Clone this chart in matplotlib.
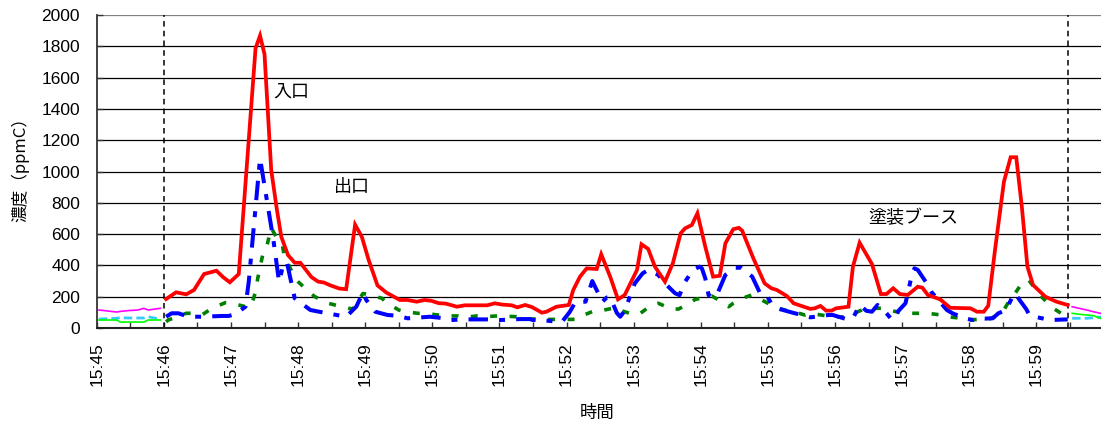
import matplotlib
matplotlib.use("Agg")
import matplotlib.pyplot as plt
from matplotlib.ticker import FixedLocator

plt.rcParams['font.family'] = ['Liberation Sans', 'Noto Sans CJK JP', 'DejaVu Sans']
plt.rcParams['lines.scale_dashes'] = False

# ---- data: time in seconds after 15:45:00, concentration in ppmC ----
inlet_t = [62, 71, 80, 87, 96, 107, 113, 119, 127, 142, 146, 150, 156, 161, 165, 171, 177, 182,
           192, 198, 203, 209, 217, 223, 231, 237, 243, 251, 259, 271, 278, 286, 293, 299, 306,
           312, 322, 329, 349, 356, 362, 371, 376, 383, 389, 398, 402, 411, 422, 426, 432, 438,
           447, 451, 459, 466, 472, 483, 487, 493, 499, 508, 515, 522, 526, 532, 537, 544, 551,
           557, 562, 569, 574, 577, 587, 597, 603, 608, 617, 623, 632, 638, 642, 647, 652, 657,
           661, 672, 676, 682, 693, 701, 706, 712, 718, 725, 734, 738, 743, 754, 763, 781, 787,
           793, 797, 803, 811, 817, 822, 827, 832, 837, 848, 858, 868]
inlet_v = [185, 228, 215, 243, 345, 366, 325, 292, 345, 1787, 1868, 1750, 1010, 760, 583, 466, 417, 417,
           325, 296, 291, 272, 252, 248, 660, 583, 437, 272, 226, 179, 179, 168, 179, 174, 158,
           156, 136, 145, 145, 158, 150, 145, 132, 147, 134, 98, 104, 136, 147, 243, 328, 381,
           377, 471, 328, 183, 211, 371, 535, 505, 392, 296, 413, 605, 637, 658, 733, 520, 328,
           334, 541, 631, 640, 622, 445, 286, 254, 243, 204, 158, 136, 122, 126, 141, 111, 111,
           126, 136, 392, 545, 409, 217, 217, 254, 217, 211, 264, 258, 211, 183, 129, 126, 104,
           104, 143, 498, 935, 1091, 1091, 775, 392, 275, 200, 168, 147]

outlet_t = [62, 67, 73, 80, 86, 94, 112, 118, 121, 126, 128, 133, 136, 146, 158, 163, 167, 170, 177,
            191, 206, 223, 232, 238, 241, 249, 260, 268, 278, 298, 311, 317, 328, 349, 361, 378,
            387, 390, 398, 411, 416, 423, 428, 437, 443, 452, 456, 459, 465, 468, 472, 481, 488,
            493, 502, 508, 517, 521, 526, 533, 539, 541, 544, 547, 551, 555, 562, 571, 576, 586,
            593, 598, 604, 608, 622, 638, 654, 658, 671, 676, 682, 688, 693, 698, 702, 706, 711,
            716, 723, 729, 731, 734, 738, 743, 746, 754, 760, 765, 776, 783, 788, 794, 801, 806,
            813, 815, 818, 821, 825, 831, 834, 852, 868]
outlet_v = [72, 94, 94, 77, 72, 72, 77, 77, 83, 104, 110, 136, 300, 1084, 560, 296, 410, 420, 190,
            115, 94, 72, 136, 226, 179, 104, 83, 79, 62, 72, 62, 51, 55, 55, 51, 57,
            57, 51, 51, 40, 40, 104, 168, 168, 300, 168, 195, 196, 96, 72, 110, 285, 349,
            371, 339, 285, 222, 210, 296, 371, 392, 381, 318, 210, 195, 222, 339, 385, 385, 328,
            222, 217, 147, 126, 98, 68, 83, 83, 55, 62, 147, 110, 104, 147, 126, 94, 51,
            104, 158, 349, 381, 371, 328, 275, 232, 165, 115, 94, 62, 51, 62, 60, 62, 94,
            115, 147, 190, 222, 179, 120, 79, 51, 55]

booth_t = [62, 64, 80, 85, 94, 103, 115, 119, 133, 138, 142, 144, 149, 152, 156, 162, 166, 168, 171,
           177, 180, 191, 195, 207, 213, 225, 229, 238, 241, 255, 258, 270, 276, 287, 293, 305,
           311, 323, 328, 340, 346, 358, 363, 375, 380, 396, 411, 414, 429, 432, 445, 451, 465,
           469, 481, 486, 496, 502, 514, 520, 530, 535, 550, 555, 565, 569, 581, 586, 599, 605,
           617, 623, 633, 638, 651, 657, 669, 684, 687, 703, 720, 743, 755, 760, 774, 778, 788,
           796, 806, 810, 818, 821, 827, 833, 840, 843, 855, 860, 868]
booth_v = [40, 51, 94, 94, 83, 126, 162, 162, 136, 136, 232, 318, 488, 520, 640, 562, 530, 445, 413,
           320, 296, 222, 200, 158, 147, 126, 122, 220, 217, 190, 168, 115, 104, 94, 94, 83,
           77, 77, 68, 77, 72, 77, 77, 72, 62, 55, 55, 55, 55, 72, 111, 111, 132,
           111, 83, 94, 147, 158, 121, 121, 158, 183, 204, 183, 136, 158, 200, 211, 162, 136,
           111, 104, 83, 94, 79, 72, 70, 115, 126, 126, 94, 94, 83, 72, 62, 51, 55,
           51, 83, 104, 200, 222, 285, 307, 243, 211, 126, 104, 62]

# before / after the measurement window
pre_t = [2, 18, 21, 28, 37, 42, 46, 57]
pre_a = [115, 102, 106, 111, 115, 126, 115, 126]
pre_b = [57, 62, 66, 64, 64, 64, 72, 55]
pre_c = [51, 51, 38, 38, 38, 38, 51, 51]
post_t = [872, 878, 885, 891, 897, 900]
post_a = [136, 126, 115, 104, 94, 92]
post_b = [62, 62, 62, 66, 70, 70]
post_c = [94, 88, 83, 79, 62, 60]

window = [60, 868]
minute_labels = ["15:45", "15:46", "15:47", "15:48", "15:49", "15:50", "15:51", "15:52",
                 "15:53", "15:54", "15:55", "15:56", "15:57", "15:58", "15:59"]

W, H = 1101, 428
fig = plt.figure(figsize=(W / 100, H / 100), dpi=100)
ax = fig.add_axes([96.7 / W, 100 / H, (1103.5 - 96.7) / W, 313 / H])

ax.set_xlim(0, 900)
ax.set_ylim(0, 2000)

for yv in range(200, 2001, 200):
    ax.axhline(yv, color='black' if yv < 2000 else '#808080', lw=0.9, zorder=1)

for xv in window:
    ax.axvline(xv, color='black', lw=1.1, dashes=(4, 3), zorder=2)

ax.plot(pre_t, pre_a, color='#FF00FF', lw=1.2, zorder=3)
ax.plot(pre_t, pre_b, color='#33CCFF', lw=2.0, dashes=(6, 3), zorder=3)
ax.plot(pre_t, pre_c, color='#00FF00', lw=1.2, zorder=3)
ax.plot(post_t, post_a, color='#FF00FF', lw=1.2, zorder=3)
ax.plot(post_t, post_b, color='#33CCFF', lw=2.0, dashes=(6, 3), zorder=3)
ax.plot(post_t, post_c, color='#00FF00', lw=1.2, zorder=3)

ax.plot(booth_t, booth_v, color='#008000', lw=2.6, dashes=(5, 9), zorder=4)
ax.plot(outlet_t, outlet_v, color='#0000FF', lw=2.9, dashes=(14, 8, 4.3, 8), zorder=5)
ax.plot(inlet_t, inlet_v, color='#FF0000', lw=2.7, zorder=6, solid_joinstyle='miter')

ax.xaxis.set_major_locator(FixedLocator(list(range(0, 900, 60))))
ax.xaxis.set_minor_locator(FixedLocator(list(range(30, 900, 60))))
ax.set_xticklabels(minute_labels, rotation=90, fontsize=12.5)
ax.set_yticks(list(range(0, 2001, 200)))
ax.set_yticklabels([str(v) for v in range(0, 2001, 200)], fontsize=12.5)

ax.tick_params(axis='x', which='both', direction='in', length=4.5, width=1, color='#333333', pad=10)
ax.tick_params(axis='y', which='both', direction='in', length=4.5, width=1, color='#333333', pad=12)

ax.spines['right'].set_visible(False)
ax.spines['top'].set_visible(False)
ax.spines['left'].set_color('#333333')
ax.spines['left'].set_linewidth(1.3)
ax.spines['bottom'].set_color('#222222')
ax.spines['bottom'].set_linewidth(1.5)

jp = ['Noto Sans CJK JP', 'DejaVu Sans']
fig.text(20 / W, 1 - 166 / H, "濃度（ppmC）", rotation=90, ha='center', va='center', fontsize=12, family=jp)
fig.text(597 / W, 1 - 413 / H, "時間", ha='center', va='center', fontsize=12.5, family=jp)
fig.text(291 / W, 1 - 92 / H, "入口", ha='center', va='center', fontsize=13, family=jp)
fig.text(352 / W, 1 - 187 / H, "出口", ha='center', va='center', fontsize=13, family=jp)
fig.text(913 / W, 1 - 218 / H, "塗装ブース", ha='center', va='center', fontsize=13, family=jp)

fig.savefig("out.png", dpi=100)
